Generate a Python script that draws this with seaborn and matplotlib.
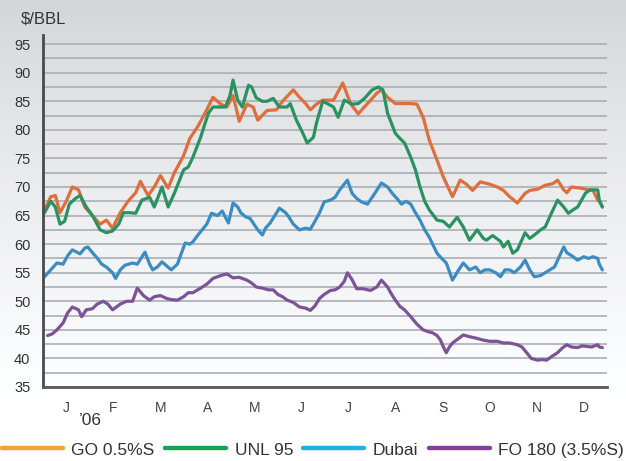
import numpy as np
import pandas as pd
import matplotlib
matplotlib.use("Agg")
import matplotlib.pyplot as plt
from matplotlib.lines import Line2D
import seaborn as sns

# ---------------- data (day of year 2006, $/bbl) ----------------
series_names = ["GO 0.5%S", "UNL 95", "Dubai", "FO 180 (3.5%S)"]

go_days = [1, 5, 8, 11, 15, 19, 23, 27, 32, 37, 41, 45, 50, 55, 60, 63, 68, 72, 76, 81,
           85, 91, 95, 100, 105, 110, 115, 119, 123, 127, 132, 136, 139, 145, 151, 155, 162, 166, 170, 173,
           177, 181, 188, 194, 199, 204, 210, 216, 219, 223, 228, 233, 238, 242, 246, 250, 255, 259, 265, 270,
           274, 278, 283, 289, 294, 298, 302, 307, 312, 315, 320, 325, 330, 333, 337, 339, 342, 348, 353, 356,
           359, 360, 362]
go_vals = [66, 68.3, 68.5, 65.5, 67.5, 70, 69.5, 66.5, 65, 63.5, 64.2, 62.8, 65.5, 67.5, 69, 71, 68.5, 70, 72, 69.8,
           72.5, 75.5, 78.5, 80.5, 83, 85.7, 84.5, 84, 86, 81.5, 84.5, 84, 81.7, 83.4, 83.5, 85, 87, 85.7, 84.6, 83.5,
           84.5, 85.2, 85.2, 88.2, 84.6, 82.8, 84.6, 86.4, 87, 85.7, 84.6, 84.6, 84.6, 84.5, 82.2, 78.2, 74.7, 71.8, 68.3, 71.2,
           70.5, 69.4, 70.9, 70.5, 70, 69.4, 68.3, 67.2, 68.9, 69.4, 69.6, 70.3, 70.6, 71.2, 69.5, 69, 70, 69.8, 69.5, 69.4,
           67.7, 67.5, 66.5]

unl_days = [1, 5, 8, 11, 14, 17, 21, 24, 28, 32, 37, 41, 45, 49, 52, 56, 60, 64, 69, 72,
            77, 81, 85, 91, 94, 97, 102, 107, 110, 113, 118, 121, 123, 126, 129, 133, 135, 138, 142, 145,
            149, 153, 158, 160, 164, 168, 171, 175, 177, 181, 184, 188, 191, 195, 200, 204, 208, 213, 217, 220,
            223, 228, 231, 234, 238, 241, 244, 247, 250, 255, 259, 263, 268, 272, 276, 281, 285, 287, 291, 296,
            298, 301, 304, 307, 312, 315, 318, 322, 325, 329, 333, 337, 340, 343, 346, 351, 354, 357, 359, 360,
            362]
unl_vals = [65.5, 67.5, 66.5, 63.5, 64, 67, 68, 68.5, 66.5, 65, 62.5, 62, 62.3, 63.5, 65.5, 65.5, 65.4, 67.7, 68.2, 66.5,
            70, 66.5, 68.9, 73, 73.5, 75.2, 78.7, 82.9, 84, 84, 84, 86, 88.7, 85.2, 84, 87.8, 87.5, 85.6, 85, 85,
            85.5, 84, 84, 84.6, 81.7, 79.5, 77.7, 78.7, 81.2, 85, 84.6, 84, 82.2, 85.2, 84.5, 84.6, 85.5, 87, 87.5, 87,
            82.9, 79.4, 78.5, 77.7, 75.2, 73, 70, 67.5, 66, 64.2, 64, 63, 64.7, 63, 60.7, 62.5, 61, 60.7, 61.5, 60.5,
            59.5, 60.5, 58.4, 59, 62, 61, 61.6, 62.5, 63, 65.4, 67.7, 66.5, 65.4, 66, 66.5, 68.9, 69.5, 69.5, 69.5, 67.7,
            66.5]

dub_days = [1, 5, 9, 13, 16, 19, 24, 27, 29, 32, 35, 38, 41, 45, 47, 50, 53, 58, 61, 66,
            69, 71, 74, 77, 80, 83, 87, 92, 95, 97, 100, 103, 106, 109, 113, 116, 120, 123, 126, 128,
            131, 134, 136, 139, 142, 144, 147, 150, 153, 157, 159, 162, 166, 170, 173, 176, 179, 182, 186, 189,
            192, 197, 200, 203, 206, 210, 215, 219, 223, 226, 229, 232, 235, 238, 241, 244, 247, 250, 255, 258,
            261, 265, 269, 272, 276, 280, 283, 286, 289, 293, 296, 299, 302, 305, 309, 312, 315, 318, 322, 325,
            328, 331, 337, 339, 342, 346, 350, 353, 356, 359, 360, 362]
dub_vals = [54.3, 55.5, 56.7, 56.5, 58, 59, 58.3, 59.3, 59.5, 58.5, 57.6, 56.5, 56, 55, 54, 55.5, 56.3, 56.7, 56.5, 58.6,
            56.5, 55.5, 56, 56.9, 56.2, 55.5, 56.5, 60.2, 60, 60.4, 61.5, 62.5, 63.5, 65.4, 65, 65.8, 63.7, 67.2, 66.5, 65.5,
            64.8, 64.5, 63.7, 62.5, 61.6, 62.8, 63.7, 65, 66.3, 65.5, 64.8, 63.5, 62.5, 62.8, 62.6, 64, 65.5, 67.4, 67.7, 68.2,
            69.5, 71.2, 68.9, 68, 67.4, 67, 69, 70.7, 70, 68.9, 68, 67, 67.5, 67, 65.5, 64.2, 62.5, 61.2, 58.4, 57.5,
            56.7, 53.7, 55.5, 56.7, 55.5, 56, 55, 55.5, 55.5, 55, 54.3, 55.5, 55.5, 55, 56, 57.2, 55.5, 54.3, 54.5, 55,
            55.5, 56, 59.5, 58.5, 58, 57.2, 57.8, 57.5, 57.8, 57.5, 56.5, 55.5]

fo_days = [3, 6, 9, 13, 16, 19, 23, 25, 28, 32, 35, 39, 42, 45, 50, 54, 58, 61, 65, 69,
           72, 76, 80, 83, 87, 91, 94, 97, 102, 106, 110, 115, 119, 123, 127, 132, 135, 138, 142, 146,
           149, 152, 155, 158, 162, 166, 170, 173, 176, 179, 182, 186, 189, 192, 195, 197, 200, 203, 207, 212,
           216, 219, 223, 225, 228, 231, 234, 238, 242, 246, 249, 252, 255, 257, 260, 261, 263, 265, 269, 272,
           276, 281, 285, 289, 294, 298, 302, 307, 310, 313, 316, 320, 323, 326, 329, 333, 336, 339, 342, 346,
           349, 352, 355, 359, 360, 362]
fo_vals = [44, 44.3, 45, 46.2, 48, 49, 48.5, 47.3, 48.5, 48.7, 49.5, 50, 49.5, 48.5, 49.5, 50, 50, 52.3, 51, 50.2,
           50.8, 51, 50.5, 50.3, 50.2, 50.8, 51.5, 51.5, 52.3, 53, 54, 54.5, 54.8, 54.1, 54.2, 53.7, 53.2, 52.5, 52.3, 52,
           52, 51.2, 50.8, 50.2, 49.8, 49, 48.8, 48.4, 49.2, 50.5, 51.2, 51.9, 52, 52.5, 53.5, 55, 53.8, 52.2, 52.2, 51.9,
           52.5, 53.7, 52.5, 51.5, 50.2, 49.1, 48.5, 47.3, 46, 45, 44.7, 44.5, 44, 43.3, 41.5, 41, 42, 42.7, 43.5, 44.1,
           43.8, 43.5, 43.2, 43, 43, 42.7, 42.7, 42.4, 42, 41, 40, 39.7, 39.8, 39.7, 40.3, 41, 41.8, 42.4, 42, 41.9,
           42.2, 42.1, 42, 42.4, 42, 41.9]

month_labels = ["J", "F", "M", "A", "M", "J", "J", "A", "S", "O", "N", "D"]
y_ticks = [35, 40, 45, 50, 55, 60, 65, 70, 75, 80, 85, 90, 95]

# ---------------- styling ----------------
line_colors = ["#de6e3c", "#2a9160", "#3a8cc2", "#7c5496"]
legend_colors = ["#f0a535", "#17a356", "#1fb1e3", "#83409b"]

sns.set_theme(style="white")
plt.rcParams["font.family"] = ["Liberation Sans", "DejaVu Sans"]

frames = []
for name, d, v in zip(series_names,
                      [go_days, unl_days, dub_days, fo_days],
                      [go_vals, unl_vals, dub_vals, fo_vals]):
    frames.append(pd.DataFrame({"day": d, "price": v, "series": name}))
df = pd.concat(frames, ignore_index=True)

W, H = 626, 461
fig = plt.figure(figsize=(W / 100, H / 100), dpi=100)

# faint background wash
bg = fig.add_axes([0, 0, 1, 1], zorder=0)
gy = np.linspace(0, 1, 200)[:, None]
shade = 0.83 + 0.17 * np.clip(gy * 1.15, 0, 1) ** 0.8
gx = np.linspace(0, 1, 100)[None, :]
shade = shade + 0.0 * gx
img = np.dstack([shade, shade * 1.003, shade * 1.008])
img = np.clip(img, 0, 1)
bg.imshow(img, aspect="auto", extent=[0, 1, 0, 1], origin="upper")
bg.set_axis_off()

left, right = 43 / W, 607 / W
bottom, top = 1 - 387 / H, 1 - 35 / H
ax = fig.add_axes([left, bottom, right - left, top - bottom], zorder=1)
ax.patch.set_alpha(0)

sns.lineplot(data=df, x="day", y="price", hue="series", hue_order=series_names,
             palette=line_colors, estimator=None, linewidth=2.3, legend=False,
             ax=ax, zorder=3)

ax.set_xlim(0, 365)
ax.set_ylim(35, 96.6)
ax.set_xlabel("")
ax.set_ylabel("")

# y axis
ax.set_yticks(y_ticks)
ax.set_yticks(np.arange(37.5, 95, 5.0), minor=True)
ax.tick_params(axis="y", which="major", direction="out", length=6, width=1.8,
               color="#2e2e2e", labelsize=10.5, labelcolor="#333333", pad=3)
ax.tick_params(axis="y", which="minor", direction="out", length=3.5, width=1.8,
               color="#2e2e2e")
ax.yaxis.grid(True, which="both", color="#a9afb7", linewidth=1.2, zorder=1)
ax.xaxis.grid(False)

# x axis: month boundaries + centred month letters
month_len = 365 / 12
ax.set_xticks([k * month_len for k in range(13)])
ax.set_xticklabels([""] * 13)
ax.set_xticks([(k + 0.5) * month_len for k in range(12)], minor=True)
ax.set_xticklabels(month_labels, minor=True)
ax.tick_params(axis="x", which="major", direction="inout", length=10, width=1.6,
               color="#3a3a3a")
ax.tick_params(axis="x", which="minor", length=0, labelsize=10,
               labelcolor="#444444", pad=10)

for s in ["top", "right"]:
    ax.spines[s].set_visible(False)
ax.spines["left"].set_color("#4a4a4a")
ax.spines["left"].set_linewidth(2.0)
ax.spines["bottom"].set_color("#5a5a5a")
ax.spines["bottom"].set_linewidth(2.0)
ax.spines["left"].set_zorder(4)
ax.spines["bottom"].set_zorder(4)

fig.text(21 / W, 1 - 19 / H, "$/BBL", fontsize=12, color="#333333",
         ha="left", va="center")
fig.text(90 / W, 1 - 420 / H, "\u201906", fontsize=12.5, color="#333333",
         ha="center", va="center")

handles = [Line2D([0], [0], color=c, lw=3.2) for c in legend_colors]
fig.legend(handles, series_names, loc="center", bbox_to_anchor=(0.5, 1 - 450 / H),
           ncol=4, frameon=False, fontsize=12.5, handlelength=3.5,
           handletextpad=0.5, columnspacing=0.6, borderpad=0, borderaxespad=0,
           labelcolor="#333333")

fig.savefig("out.png", dpi=100)
